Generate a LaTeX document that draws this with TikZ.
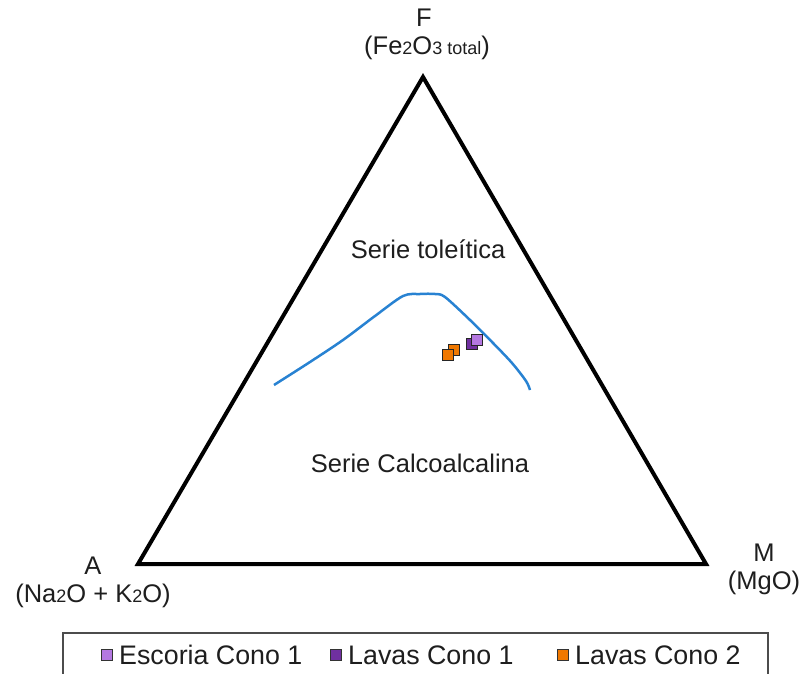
\documentclass[tikz,border=0pt]{standalone}
\usepackage{fontspec}
\setmainfont{Liberation Sans}
\definecolor{curveblue}{RGB}{40,130,210}
\definecolor{lightpurp}{RGB}{180,120,225}
\definecolor{darkpurp}{RGB}{112,48,160}
\definecolor{orangept}{RGB}{240,120,0}
\definecolor{txt}{RGB}{30,30,30}
\tikzset{
  lbl/.style={inner sep=0pt, text=txt, font=\fontsize{25.5}{30}\selectfont},
  leglbl/.style={inner sep=0pt, text=txt, font=\fontsize{26.8}{30}\selectfont, anchor=west},
  pt/.style={draw=black!85, line width=1.6pt, minimum size=11pt, inner sep=0pt, rectangle},
  legpt/.style={draw=black!80, line width=1.1pt, minimum size=11pt, inner sep=0pt, rectangle},
}
\newcommand{\sm}[1]{{\fontsize{18}{20}\selectfont #1}}
\begin{document}
\begin{tikzpicture}[x=1pt,y=-1pt]
\useasboundingbox (0,0) rectangle (801,674);
% vertices
\coordinate (A) at (138,564);
\coordinate (F) at (423,77);
\coordinate (M) at (706,564);
\draw[line width=4pt] (A) -- (F) -- (M) -- cycle;
% vertex labels
\node[lbl] (Flab) at (424,18) {F};
\node[lbl] (Fsub) at (427,48) {(Fe\sm{2}O\sm{3 total})};
\node[lbl] (Alab) at (93,566) {A};
\node[lbl] (Asub) at (93,596) {(Na\sm{2}O + K\sm{2}O)};
\node[lbl] (Mlab) at (764,553) {M};
\node[lbl] (Msub) at (764,583) {(MgO)};
% field labels
\node[lbl] (tol) at (428,249) {Serie toleítica};
\node[lbl] (calc) at (420,463) {Serie Calcoalcalina};
% boundary curve
\draw[curveblue, line width=2.5pt] plot[smooth, tension=0.5] coordinates {(274,385) (310,362) (343,340) (375,316) (403,296) (420,294) (435,294) (445,297) (470,320) (493,343) (512,363) (526,381) (530,390)};
% data points
\node[pt, fill=orangept] (o2) at (454,350) {};
\node[pt, fill=orangept] (o1) at (448,355) {};
\node[pt, fill=darkpurp] (d1) at (472,344) {};
\node[pt, fill=lightpurp] (l1) at (477,340) {};
% legend
\draw[black!70, line width=1.2pt] (63,674) -- (63,633) -- (768,633) -- (768,674);
\node[legpt, fill=lightpurp] (k1) at (107,655) {};
\node[leglbl] (t1) at (119,655) {Escoria Cono 1};
\node[legpt, fill=darkpurp] (k2) at (336,655) {};
\node[leglbl] (t2) at (348,655) {Lavas Cono 1};
\node[legpt, fill=orangept] (k3) at (563,655) {};
\node[leglbl] (t3) at (575,655) {Lavas Cono 2};
\end{tikzpicture}
\end{document}
